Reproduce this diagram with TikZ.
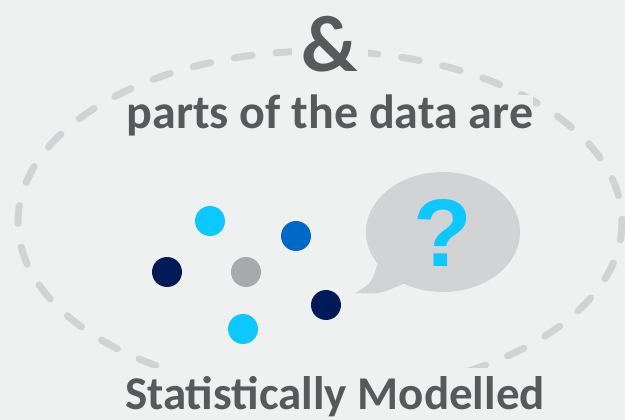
\documentclass[tikz,border=0pt]{standalone}
\usepackage{fontspec}
\setmainfont{Carlito}
\newfontfamily\qfont{Liberation Sans}
\definecolor{bggray}{HTML}{EFF0F0}
\definecolor{ringgray}{HTML}{D1D3D4}
\definecolor{txtgray}{HTML}{58595B}
\definecolor{dotcyan}{HTML}{0DC8FF}
\definecolor{dotblue}{HTML}{0068C9}
\definecolor{dotnavy}{HTML}{001A57}
\definecolor{dotgray}{HTML}{A7A9AC}
\begin{document}
\begin{tikzpicture}[x=1pt, y=-1pt,
    ring/.style={draw=ringgray, line width=7pt, line cap=round, dash pattern=on 18pt off 24pt},
    label/.style={text=txtgray, font=\bfseries, fill=bggray, inner sep=4pt},
    dot/.style={circle, minimum size=30pt, inner sep=0pt}]
\useasboundingbox[fill=bggray] (0,0) rectangle (625,420);
% dashed ring
\draw[ring] (320,222) ellipse [x radius=302, y radius=171];
% texts
\node[label, font=\bfseries\fontsize{80}{80}\selectfont, inner sep=10pt] (amp) at (330,44) {\&};
\node[label, font=\bfseries\fontsize{48}{48}\selectfont, anchor=base, inner sep=0pt] (parts) at (330,129) {parts of the data are};
\node[label, font=\bfseries\fontsize{47}{47}\selectfont, anchor=base, inner xsep=2pt, inner ysep=8pt] (model) at (335,409) {Statistically Modelled};
% data points
\node[dot, fill=dotcyan] (pt-a) at (210,221) {};
\node[dot, fill=dotblue] (pt-b) at (296,236) {};
\node[dot, fill=dotnavy] (pt-c) at (167,272) {};
\node[dot, fill=dotgray] (pt-d) at (246,272) {};
\node[dot, fill=dotnavy] (pt-e) at (326,305) {};
\node[dot, fill=dotcyan] (pt-f) at (243,329) {};
% speech bubble
\fill[ringgray] (443,232) ellipse [x radius=77, y radius=60];
\fill[ringgray] (378,262) .. controls (372,283) .. (355,293)
    .. controls (380,294) .. (405,283) -- (420,270) -- cycle;
\node[text=dotcyan, font=\qfont\bfseries\fontsize{96}{96}\selectfont] (qmark) at (443,233) {?};
\end{tikzpicture}
\end{document}
